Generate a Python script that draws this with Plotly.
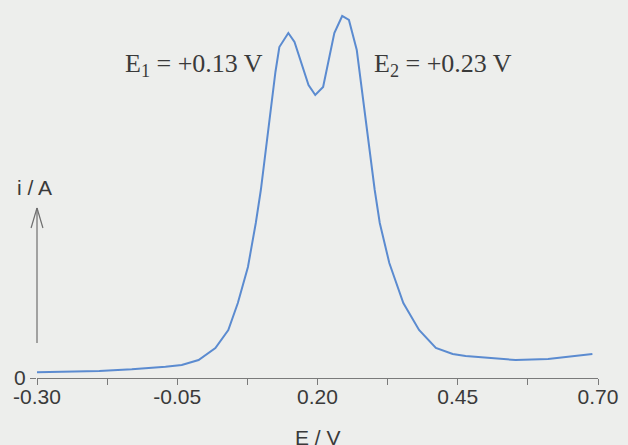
import plotly.graph_objects as go

# Differential pulse voltammogram: potential E (V) and current i (arbitrary units)
potential = [-0.300, -0.189, -0.131, -0.101, -0.071, -0.042, -0.030, -0.012,
             0.018, 0.041, 0.058, 0.076, 0.090, 0.099, 0.125, 0.132, 0.148,
             0.159, 0.184, 0.196, 0.210, 0.230, 0.244, 0.256, 0.270, 0.302,
             0.311, 0.328, 0.353, 0.381, 0.411, 0.441, 0.464, 0.553, 0.611,
             0.646, 0.690]
current = [0.057, 0.07, 0.087, 0.097, 0.113, 0.13, 0.147, 0.18,
           0.30, 0.48, 0.75, 1.11, 1.55, 1.88, 3.06, 3.31, 3.45,
           3.36, 2.93, 2.83, 2.91, 3.45, 3.62, 3.58, 3.28, 1.88,
           1.55, 1.15, 0.75, 0.48, 0.30, 0.24, 0.22, 0.18, 0.19,
           0.21, 0.24]

x_tick_vals = [-0.30, -0.05, 0.20, 0.45, 0.70]
x_tick_text = ["-0.30", "-0.05", "0.20", "0.45", "0.70"]
peak_labels = ["E<sub>1</sub> = +0.13 V", "E<sub>2</sub> = +0.23 V"]

bg = "#edeeec"
axis_grey = "#7a7a7a"
text_grey = "#3a3a3a"
sans = "Liberation Sans, Arial, sans-serif"
serif = "Liberation Serif, Times New Roman, serif"

fig = go.Figure()
fig.add_trace(go.Scatter(
    x=potential, y=current, mode="lines",
    line=dict(color="#5b8bd0", width=2),
    hoverinfo="skip", showlegend=False,
))

fig.update_layout(
    width=628, height=445,
    margin=dict(l=37, r=24, t=10, b=67),
    paper_bgcolor=bg, plot_bgcolor=bg,
    showlegend=False,
    xaxis=dict(
        range=[-0.30, 0.70],
        showgrid=False, zeroline=False,
        showline=True, linecolor=axis_grey, linewidth=1,
        tickmode="array", tickvals=x_tick_vals, ticktext=x_tick_text,
        ticks="outside", ticklen=6, tickcolor=axis_grey, tickwidth=1,
        ticklabelstandoff=-6,
        minor=dict(tickmode="array", tickvals=[-0.175, 0.075, 0.325, 0.575],
                   ticks="outside", ticklen=6, tickcolor=axis_grey, tickwidth=1),
        tickfont=dict(family=sans, size=21, color=text_grey),
    ),
    yaxis=dict(
        range=[0, 3.68],
        showgrid=False, zeroline=False, showline=False,
        tickmode="array", tickvals=[0], ticktext=["0"],
        ticks="outside", ticklen=6, tickcolor=axis_grey, tickwidth=1,
        tickfont=dict(family=sans, size=21, color=text_grey),
    ),
)

# Peak potential labels
fig.add_annotation(x=-0.021, y=3.13, xref="x", yref="y", text=peak_labels[0],
                   showarrow=False, xanchor="center",
                   font=dict(family=serif, size=26, color=text_grey))
fig.add_annotation(x=0.424, y=3.13, xref="x", yref="y", text=peak_labels[1],
                   showarrow=False, xanchor="center",
                   font=dict(family=serif, size=26, color=text_grey))

# Axis titles
fig.add_annotation(x=0.5, y=-0.125, xref="paper", yref="paper", text="E / V",
                   showarrow=False, yanchor="top", xanchor="center",
                   font=dict(family=sans, size=21, color=text_grey))
fig.add_annotation(x=-0.005, y=0.519, xref="paper", yref="paper", text="i / A",
                   showarrow=False, xanchor="center",
                   font=dict(family=sans, size=21, color=text_grey))

# Upward arrow indicating the current direction (open arrowhead)
def px_x(px):
    return (px - 37) / 567

def px_y(py):
    return (378 - py) / 368

arrow_style = dict(color="#6e6e6e", width=1.2)
fig.add_shape(type="line", xref="paper", yref="paper",
              x0=px_x(37), y0=px_y(343), x1=px_x(37), y1=px_y(208), line=arrow_style)
fig.add_shape(type="line", xref="paper", yref="paper",
              x0=px_x(31), y0=px_y(228), x1=px_x(37), y1=px_y(208), line=arrow_style)
fig.add_shape(type="line", xref="paper", yref="paper",
              x0=px_x(43), y0=px_y(228), x1=px_x(37), y1=px_y(208), line=arrow_style)

fig.write_html("out.html")
